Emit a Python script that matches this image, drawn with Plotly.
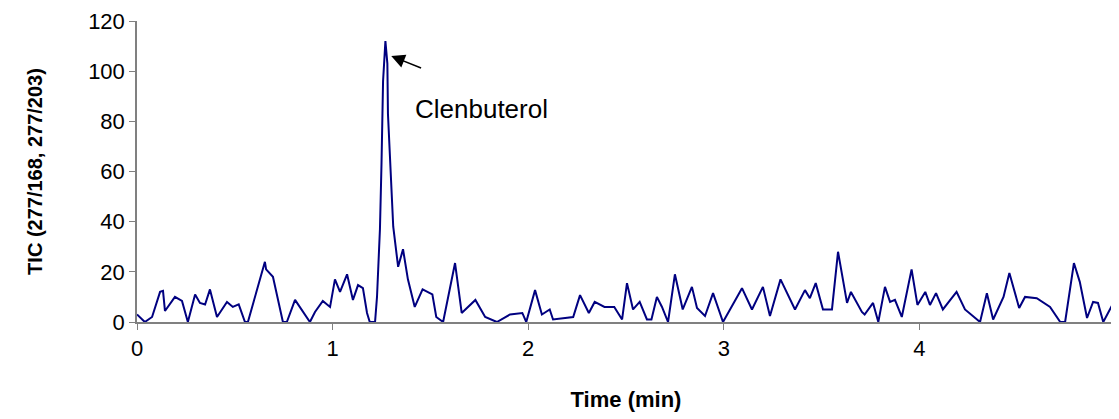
import plotly.graph_objects as go

# Total ion chromatogram
time_min = [0, .04, .077, .092, .118, .133, .143, .194, .23, .26, .297, .322, .348, .373, .409,
            .46, .49, .52, .552, .567, .654, .66, .695, .746, .766, .808, .884, .91, .95, .987,
            1.012, 1.038, 1.074, 1.104, 1.13, 1.155, 1.176, 1.19, 1.217, 1.227, 1.242, 1.25,
            1.258, 1.27, 1.28, 1.283, 1.30, 1.31, 1.335, 1.36, 1.385, 1.42, 1.46, 1.51, 1.53,
            1.565, 1.626, 1.66, 1.73, 1.78, 1.84, 1.907, 1.97, 1.99, 2.035, 2.07, 2.11, 2.127,
            2.23, 2.265, 2.31, 2.34, 2.39, 2.44, 2.48, 2.505, 2.536, 2.57, 2.607, 2.63, 2.658,
            2.684, 2.715, 2.75, 2.79, 2.837, 2.863, 2.904, 2.945, 2.996, 3.093, 3.144, 3.2,
            3.236, 3.29, 3.364, 3.415, 3.44, 3.47, 3.507, 3.553, 3.584, 3.63, 3.65, 3.706,
            3.72, 3.763, 3.79, 3.824, 3.85, 3.875, 3.91, 3.96, 3.99, 4.03, 4.054, 4.085, 4.12,
            4.19, 4.233, 4.31, 4.345, 4.377, 4.43, 4.46, 4.51, 4.54, 4.6, 4.668, 4.72, 4.745,
            4.79, 4.82, 4.857, 4.888, 4.913, 4.94, 5.0]
tic = [3, 0, 2, 6, 12, 12.4, 4.4, 10, 8.4, 0, 11, 7.6, 7, 13, 2,
       8, 6, 7, 0, 0, 24, 21, 18, 0, 0, 8.8, 0, 4, 8.4, 6,
       17, 12, 19, 8.8, 14.7, 13.5, 3.6, 0, 0, 10, 37, 63,
       96, 112, 103, 83, 55, 38, 22, 29, 17, 6, 13, 11, 2,
       0, 23.5, 3.6, 8.8, 2, 0, 3, 3.6, 0, 12.7, 3, 5, 1,
       2, 10.7, 3.6, 8, 6, 6, 1, 15.5, 5, 8, 1, 1, 10,
       6, 0, 19, 5, 14, 5.6, 2.4, 11.5, 0, 13.5, 5, 14,
       2.4, 17, 5, 12.7, 9.5, 15.5, 5, 5, 28, 7.6, 12, 4,
       3, 7.6, 0, 14, 8, 8.8, 2, 21, 6.8, 12, 6.8, 11.5, 5,
       12, 5, 0, 11.5, 1, 10, 19.5, 5.6, 10, 9.5, 6, 0, 0,
       23.5, 16, 1.6, 8, 7.6, 0, 8.8]

fig = go.Figure()
fig.add_trace(go.Scatter(x=time_min, y=tic, mode="lines", cliponaxis=False,
                         line=dict(color="#000080", width=2), showlegend=False))

fig.add_annotation(x=1.3, y=106, ax=1.46, ay=101, xref="x", yref="y", axref="x", ayref="y",
                   text="", showarrow=True, arrowhead=2, arrowsize=1.8, arrowwidth=1.5,
                   arrowcolor="black")
fig.add_annotation(x=1.41, y=85, text="Clenbuterol", showarrow=False, xanchor="left",
                   font=dict(size=26, color="black"))

fig.add_shape(type="line", xref="paper", yref="paper", x0=1, x1=1, y0=0, y1=1,
              line=dict(color="#999999", width=2))

fig.update_layout(
    width=1111, height=411,
    margin=dict(l=129, r=4, t=13, b=97),
    paper_bgcolor="white", plot_bgcolor="white",
    font=dict(family="Liberation Sans, Arial", size=22, color="black"),
    xaxis=dict(range=[0, 5], tickvals=[0, 1, 2, 3, 4, 5], showgrid=False, zeroline=False,
               showline=True, linecolor="#808080", linewidth=1.5, ticks="outside",
               ticklen=6, tickcolor="#808080", automargin=False,
               title=dict(text="<b>Time (min)</b>", font=dict(size=22), standoff=31)),
    yaxis=dict(range=[0, 120], tickvals=[0, 20, 40, 60, 80, 100, 120], showgrid=False,
               zeroline=False, showline=True, linecolor="#808080", linewidth=1.5,
               ticks="outside", ticklen=6, tickcolor="#808080", automargin=False,
               title=dict(text="<b>TIC (277/168, 277/203)</b>", font=dict(size=20),
                          standoff=40)),
)

fig.write_html("out.html")
